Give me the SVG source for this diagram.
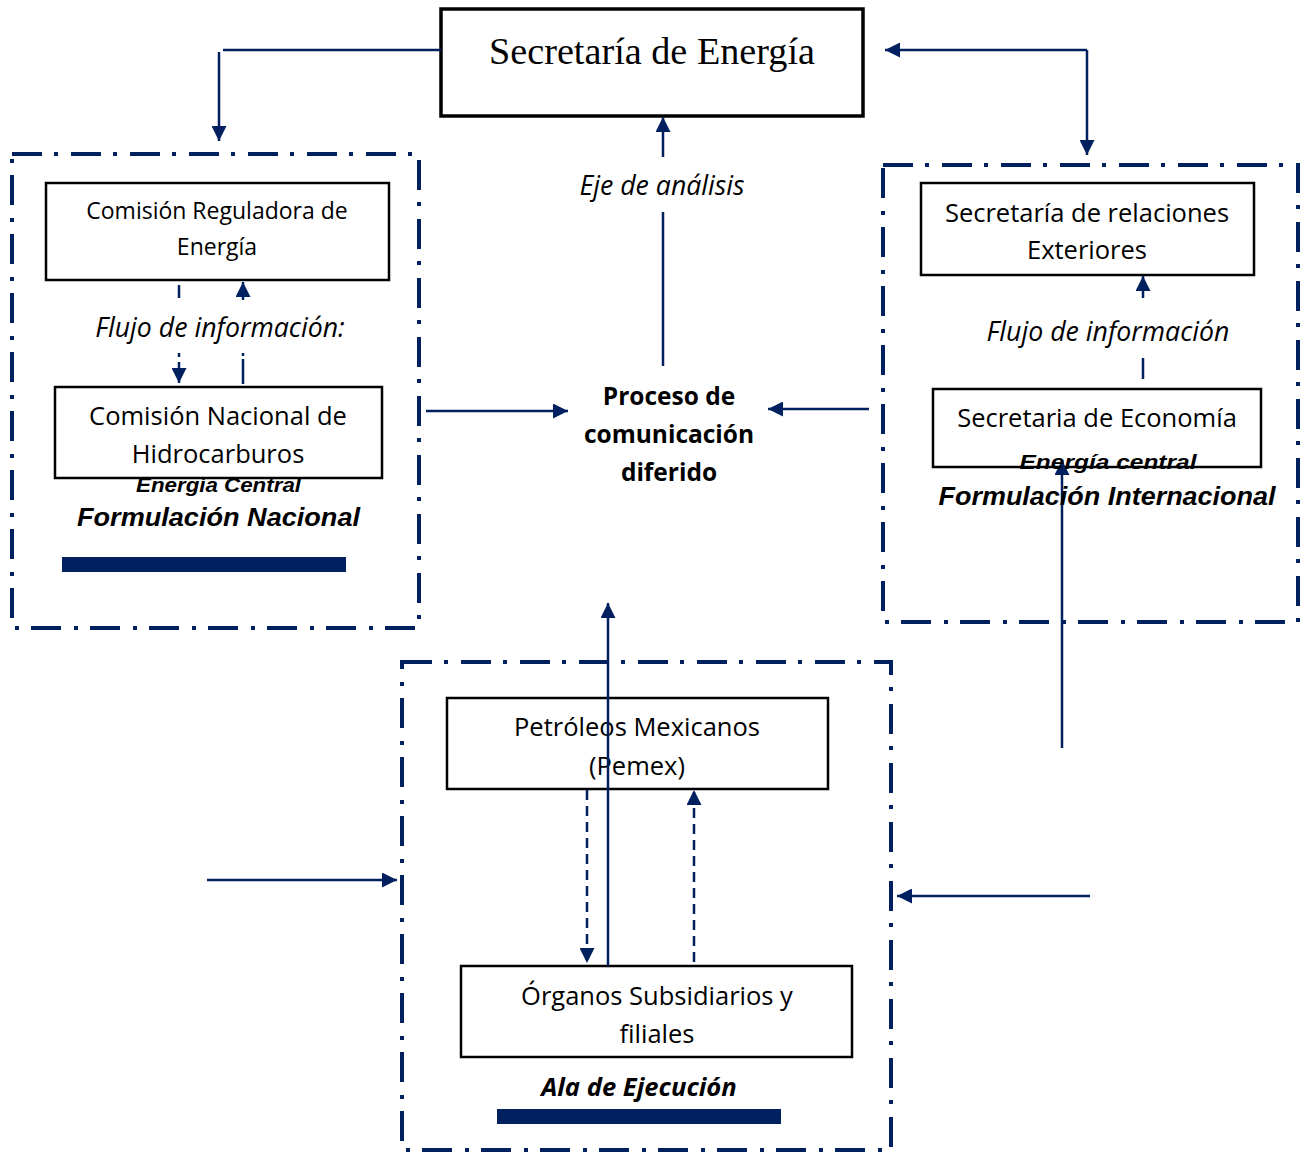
<svg xmlns="http://www.w3.org/2000/svg" width="1300" height="1155" viewBox="0 0 1300 1155">
<style>
.box{fill:#fff;stroke:#000;stroke-width:2.5}
.frame{fill:none;stroke:#002060;stroke-width:4;stroke-dasharray:30 12 4 13}
.ln{fill:none;stroke:#002060;stroke-width:2.5}
.dash{fill:none;stroke:#002060;stroke-width:2.5;stroke-dasharray:10 6}
.t{font-family:"Open Sans","Noto Sans",sans-serif;font-size:25.5px;fill:#000;text-anchor:middle}
.it{font-family:"Open Sans","Noto Sans",sans-serif;font-size:26.7px;font-style:italic;fill:#000;text-anchor:middle}
.b{font-family:"Open Sans","Noto Sans",sans-serif;font-size:24.5px;font-weight:bold;fill:#000;text-anchor:middle}
.g{font-family:"Liberation Sans",Arial,sans-serif;font-weight:bold;font-style:italic;fill:#000;text-anchor:middle}
.bar{fill:#002060}
</style>
<defs>
<marker id="ah" viewBox="0 0 10 10" refX="10" refY="5" markerWidth="15" markerHeight="15" markerUnits="userSpaceOnUse" orient="auto">
<path d="M0,0 L10,5 L0,10 z" fill="#002060"/>
</marker>
</defs>

<g id="frames">
<rect class="frame" x="12" y="154" width="407" height="474"/>
<rect class="frame" x="883" y="165" width="415" height="457"/>
<rect class="frame" x="402" y="662" width="489" height="488"/>
<rect class="bar" x="62" y="557" width="284" height="15"/>
<rect class="bar" x="497" y="1109" width="284" height="15"/>
</g>

<g id="sener">
<rect x="441" y="9" width="422" height="107" fill="#fff" stroke="#000" stroke-width="3.5"/>
<text x="652" y="64" font-family="'Liberation Serif','Times New Roman',serif" font-size="37" text-anchor="middle" textLength="326" lengthAdjust="spacingAndGlyphs">Secretaría de Energía</text>
</g>

<g id="cre">
<rect class="box" x="46" y="183" width="343" height="97"/>
<text class="t" x="217" y="219" style="font-size:23px">Comisión Reguladora de</text>
<text class="t" x="217" y="255" style="font-size:23px">Energía</text>
</g>

<g id="cnh">
<rect class="box" x="55" y="387" width="327" height="91"/>
<text class="t" x="218" y="425">Comisión Nacional de</text>
<text class="t" x="218" y="463">Hidrocarburos</text>
</g>

<g id="sre">
<rect class="box" x="921" y="183" width="333" height="92"/>
<text class="t" x="1087" y="222">Secretaría de relaciones</text>
<text class="t" x="1087" y="259">Exteriores</text>
</g>

<g id="se">
<rect class="box" x="933" y="389" width="328" height="78"/>
<text class="t" x="1097" y="427">Secretaria de Economía</text>
</g>

<g id="pemex">
<rect class="box" x="447" y="698" width="381" height="91"/>
<text class="t" x="637" y="736">Petróleos Mexicanos</text>
<text class="t" x="637" y="775">(Pemex)</text>
</g>

<g id="organos">
<rect class="box" x="461" y="966" width="391" height="91"/>
<text class="t" x="657" y="1005">Órganos Subsidiarios y</text>
<text class="t" x="657" y="1043">filiales</text>
</g>

<g id="proceso">
<text class="b" x="669" y="405">Proceso de</text>
<text class="b" x="669" y="443">comunicación</text>
<text class="b" x="669" y="481">diferido</text>
</g>

<g id="connectors">
<path class="ln" d="M441,50 H223"/>
<path class="ln" d="M219,52 V141" marker-end="url(#ah)"/>
<path class="ln" d="M1087,50 H885" marker-end="url(#ah)"/>
<path class="ln" d="M1087,50 V155" marker-end="url(#ah)"/>
<path class="ln" d="M663,157 V117" marker-end="url(#ah)"/>
<path class="ln" d="M663,366 V212"/>
<path class="ln" d="M426,411 H568" marker-end="url(#ah)"/>
<path class="ln" d="M869,409 H768" marker-end="url(#ah)"/>
<path class="ln" d="M608,966 V603" marker-end="url(#ah)"/>
<path class="ln" d="M1062,748 V460" marker-end="url(#ah)"/>
<path class="ln" d="M207,880 H397" marker-end="url(#ah)"/>
<path class="ln" d="M1090,896 H897" marker-end="url(#ah)"/>
<path class="dash" d="M587,790 V963" marker-end="url(#ah)"/>
<path class="dash" d="M694,962 V790" marker-end="url(#ah)"/>
<path class="ln" d="M179,285 V298 M179,353 V357"/>
<path class="ln" d="M179,362 V383" marker-end="url(#ah)"/>
<path class="ln" d="M243,300 V282" marker-end="url(#ah)"/>
<path class="ln" d="M243,353 V356 M243,359 V384"/>
<path class="ln" d="M1143,298 V276" marker-end="url(#ah)"/>
<path class="ln" d="M1143,358 V379"/>
</g>

<g id="labels">
<text class="it" x="662" y="195">Eje de análisis</text>
<text class="it" x="220" y="337">Flujo de información:</text>
<text class="it" x="1108" y="341">Flujo de información</text>
<text class="g" x="218.5" y="492" font-size="20" textLength="165" lengthAdjust="spacingAndGlyphs">Energía Central</text>
<text class="g" x="218.5" y="526" font-size="26" textLength="283" lengthAdjust="spacingAndGlyphs">Formulación Nacional</text>
<text class="g" x="1108" y="469" font-size="20" textLength="177" lengthAdjust="spacingAndGlyphs">Energía central</text>
<text class="g" x="1107" y="505" font-size="26" textLength="337" lengthAdjust="spacingAndGlyphs">Formulación Internacional</text>
<text class="it" x="639" y="1096" style="font-weight:bold;font-size:25.6px">Ala de Ejecución</text>
</g>
</svg>
